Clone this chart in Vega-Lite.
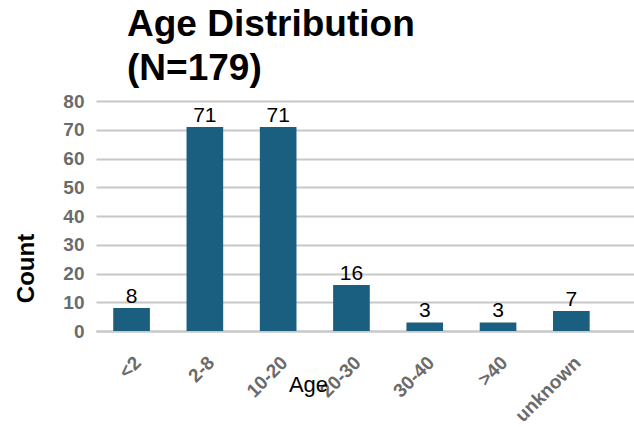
{
  "$schema": "https://vega.github.io/schema/vega-lite/v6.json",
  "width": 538,
  "height": 230,
  "autosize": {"type": "none"},
  "padding": {"left": 96, "top": 101, "right": 0, "bottom": 96},
  "background": "white",
  "title": {
    "text": ["Age Distribution", "(N=179)"],
    "anchor": "start",
    "frame": "group",
    "dx": 31,
    "font": "Liberation Sans, Arial, sans-serif",
    "fontSize": 37,
    "fontWeight": "bold",
    "color": "black",
    "lineHeight": 44,
    "offset": 4
  },
  "data": {
    "values": [
      {"age": "<2", "count": 8},
      {"age": "2-8", "count": 71},
      {"age": "10-20", "count": 71},
      {"age": "20-30", "count": 16},
      {"age": "30-40", "count": 3},
      {"age": ">40", "count": 3},
      {"age": "unknown", "count": 7}
    ]
  },
  "encoding": {
    "x": {
      "field": "age",
      "type": "nominal",
      "sort": null,
      "scale": {"paddingInner": 0.5, "paddingOuter": 0.42, "align": 0.28},
      "axis": {
        "title": "Age",
        "titleFont": "Liberation Sans, Arial, sans-serif",
        "titleFontSize": 22,
        "titleFontWeight": "normal",
        "titleColor": "black",
        "titleX": 212,
        "titleY": 60,
        "titleBaseline": "alphabetic",
        "labelAngle": -45,
        "labelFont": "Liberation Sans, Arial, sans-serif",
        "labelFontSize": 19,
        "labelFontWeight": "bold",
        "labelColor": "#6b6b6b",
        "labelPadding": 22,
        "ticks": false,
        "domainColor": "#c8c8c8",
        "domainWidth": 2
      }
    },
    "y": {
      "field": "count",
      "type": "quantitative",
      "scale": {"domain": [0, 80]},
      "axis": {
        "values": [0, 10, 20, 30, 40, 50, 60, 70, 80],
        "title": "Count",
        "titleFont": "Liberation Sans, Arial, sans-serif",
        "titleFontSize": 24,
        "titleFontWeight": "bold",
        "titleColor": "black",
        "titleX": -58,
        "titleY": 167,
        "labelFont": "Liberation Sans, Arial, sans-serif",
        "labelFontSize": 19,
        "labelFontWeight": "bold",
        "labelColor": "#6b6b6b",
        "labelPadding": 12,
        "ticks": false,
        "domain": false,
        "gridColor": "#c8c8c8",
        "gridWidth": 2
      }
    }
  },
  "layer": [
    {"mark": {"type": "bar", "color": "#1a5e80"}},
    {
      "mark": {
        "type": "text",
        "baseline": "alphabetic",
        "dy": -5,
        "font": "Liberation Sans, Arial, sans-serif",
        "fontSize": 21,
        "color": "black"
      },
      "encoding": {"text": {"field": "count", "type": "quantitative"}}
    }
  ],
  "config": {"view": {"stroke": null}}
}
